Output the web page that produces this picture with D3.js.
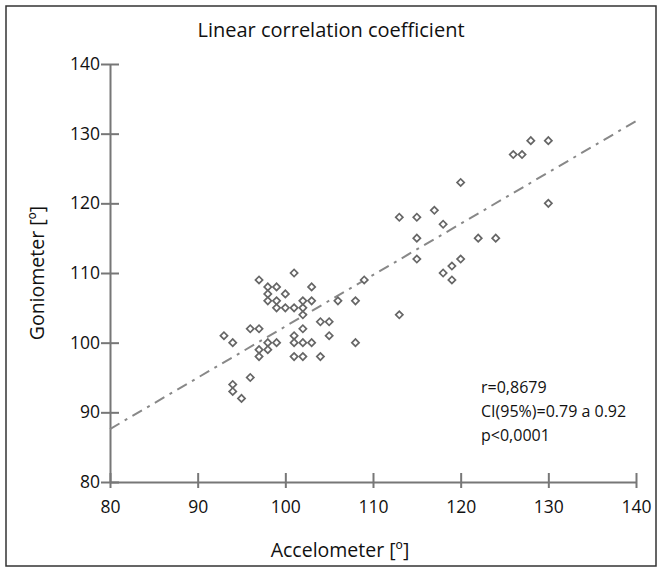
<!DOCTYPE html>
<html><head><meta charset="utf-8">
<script src="https://cdn.jsdelivr.net/npm/d3@7"></script>
<style>body{margin:0;background:#fff}</style>
</head><body>
<script>
const accel = [97,101,98,99,98,100,103,98,99,103,106,108,109,99,100,101,102,102,102,104,105,108,105,102,101,101,102,103,101,102,104,96,97,93,94,99,98,97,98,97,96,94,94,95,113,126,127,128,130,120,130,113,115,117,118,115,122,124,115,120,119,118,119];
const gonio = [109,110,108,108,107,107,108,106,106,106,106,106,109,105,105,105,105,104,106,103,103,100,101,102,101,100,100,100,98,98,98,102,102,101,100,100,100,99,99,98,95,94,93,92,104,127,127,129,129,123,120,118,118,119,117,115,115,115,112,112,111,110,109];
const xTicks = [80,90,100,110,120,130,140];
const yTicks = [80,90,100,110,120,130,140];
const fitX = [80,140];
const fitY = [87.6,131.8];
const notes = ["r=0,8679","CI(95%)=0.79 a 0.92","p<0,0001"];

const W=662,H=572, font="'Open Sans', sans-serif";
const svg=d3.select("body").append("svg").attr("width",W).attr("height",H);
svg.append("rect").attr("x",6).attr("y",6).attr("width",650).attr("height",560)
  .attr("fill","none").attr("stroke","#333").attr("stroke-width",1.5);
const x=d3.scaleLinear().domain([80,140]).range([110,636]);
const y=d3.scaleLinear().domain([80,140]).range([482,64]);

svg.append("text").attr("x",331).attr("y",37).attr("text-anchor","middle")
  .attr("font-family",font).attr("font-size",20).attr("fill","#111").text("Linear correlation coefficient");

const ax=svg.append("g").attr("transform","translate(0,482)")
  .call(d3.axisBottom(x).tickValues(xTicks).tickSizeInner(0).tickSizeOuter(0).tickPadding(19));
const ay=svg.append("g").attr("transform","translate(110,0)")
  .call(d3.axisLeft(y).tickValues(yTicks).tickSizeInner(0).tickSizeOuter(0).tickPadding(10));
[ax,ay].forEach(g=>{
  g.select(".domain").attr("stroke","#777").attr("stroke-width",2);
  g.selectAll("text").attr("font-family",font).attr("font-size",17.5).attr("fill","#111");
});
ax.selectAll(".tick").append("line").attr("y1",-9).attr("y2",6).attr("stroke","#777").attr("stroke-width",2);
ay.selectAll(".tick").append("line").attr("x1",-9).attr("x2",9).attr("stroke","#777").attr("stroke-width",2);

svg.append("line").attr("x1",x(fitX[0])).attr("y1",y(fitY[0])).attr("x2",x(fitX[1])).attr("y2",y(fitY[1]))
  .attr("stroke","#888").attr("stroke-width",2).attr("stroke-dasharray","11,6,3,6");

svg.append("g").selectAll("path").data(accel.map((a,i)=>[a,gonio[i]])).join("path")
  .attr("transform",d=>`translate(${x(d[0])},${y(d[1])}) rotate(45)`)
  .attr("d",d3.symbol().type(d3.symbolSquare).size(26))
  .attr("fill","#fff").attr("stroke","#666").attr("stroke-width",1.7);

svg.append("g").selectAll("text").data(notes).join("text")
  .attr("x",481).attr("y",(d,i)=>393+i*24).attr("font-family",font).attr("font-size",16).attr("fill","#111").text(d=>d);

svg.append("text").attr("x",340).attr("y",557).attr("text-anchor","middle")
  .attr("font-family",font).attr("font-size",19.5).attr("fill","#111").text("Accelometer [º]");
svg.append("text").attr("transform","translate(44,273) rotate(-90)").attr("text-anchor","middle")
  .attr("font-family",font).attr("font-size",19.5).attr("fill","#111").text("Goniometer [º]");
</script>
</body></html>
